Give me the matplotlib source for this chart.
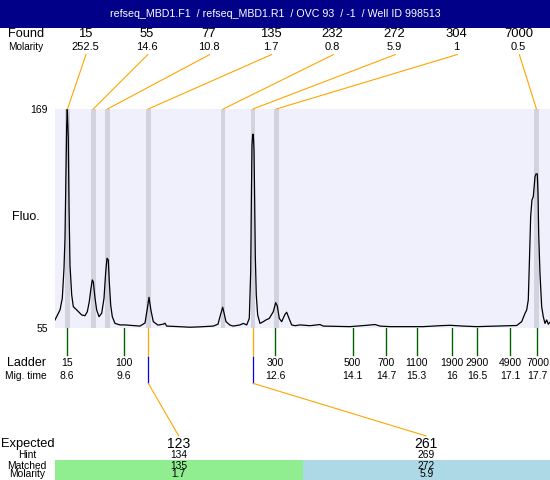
import matplotlib
matplotlib.use('Agg')
import matplotlib.pyplot as plt
from matplotlib.patches import ConnectionPatch, Rectangle
from matplotlib.transforms import blended_transform_factory

plt.rcParams['font.family'] = ['Liberation Sans', 'DejaVu Sans']

# ---------------- data ----------------
title = "refseq_MBD1.F1  / refseq_MBD1.R1  / OVC 93  / -1  / Well ID 998513"

found_size = ['15', '55', '77', '135', '232', '272', '304', '7000']
found_molarity = ['252.5', '14.6', '10.8', '1.7', '0.8', '5.9', '1', '0.5']
found_time = [8.610, 9.109, 9.383, 10.172, 11.622, 12.197, 12.648, 17.680]

ladder_size = ['15', '100', '300', '500', '700', '1100', '1900', '2900', '4900', '7000']
ladder_mig = ['8.6', '9.6', '12.6', '14.1', '14.7', '15.3', '16', '16.5', '17.1', '17.7']
ladder_time = [8.600, 9.693, 12.623, 14.124, 14.770, 15.360, 16.039, 16.530, 17.178, 17.700]

expected = ['123', '261']
hint = ['134', '269']
matched = ['135', '272']
matched_molarity = ['1.7', '5.9']
matched_time = [10.172, 12.197]
match_colors = ['#90ee90', '#add8e6']

trace_time = [8.368, 8.465, 8.509, 8.542, 8.561, 8.594, 8.606, 8.625, 8.639, 8.658,
              8.691, 8.722, 8.788, 8.884, 8.948, 8.993, 9.031, 9.064, 9.089, 9.109,
              9.142, 9.174, 9.219, 9.271, 9.316, 9.349, 9.374, 9.399, 9.418, 9.445,
              9.476, 9.528, 9.625, 9.722, 10.012, 10.109, 10.153, 10.186, 10.225, 10.269,
              10.360, 10.463, 10.495, 10.528, 10.689, 10.979, 11.172, 11.430, 11.521, 11.559,
              11.611, 11.636, 11.675, 11.753, 11.816, 11.946, 12.010, 12.076, 12.126, 12.153,
              12.165, 12.178, 12.192, 12.204, 12.217, 12.231, 12.242, 12.261, 12.288, 12.333,
              12.397, 12.449, 12.513, 12.590, 12.636, 12.667, 12.706, 12.752, 12.816, 12.849,
              12.894, 12.946, 13.010, 13.107, 13.300, 13.493, 13.557, 14.074, 14.397, 14.557,
              14.654, 14.847, 15.170, 15.485, 15.814, 16.008, 16.259, 16.524, 16.781, 17.033,
              17.298, 17.394, 17.458, 17.491, 17.522, 17.541, 17.568, 17.593, 17.619, 17.652,
              17.671, 17.696, 17.710, 17.723, 17.748, 17.781, 17.812, 17.845, 17.878, 17.909,
              17.942]
trace_fluo = [59.2, 64.4, 70.5, 86.1, 101.7, 160.7, 169.0, 153.8, 119.0, 87.8,
              72.2, 66.1, 64.4, 61.8, 61.4, 63.5, 68.7, 75.7, 80.0, 79.0,
              70.5, 64.4, 60.9, 62.7, 70.5, 84.3, 91.3, 90.4, 79.1, 67.0,
              60.9, 57.4, 56.6, 56.6, 56.0, 57.6, 65.0, 71.0, 64.0, 58.3,
              56.5, 57.0, 57.5, 56.0, 55.8, 55.4, 55.6, 56.0, 57.0, 60.9,
              65.8, 63.0, 58.3, 56.5, 56.0, 56.6, 57.4, 56.6, 60.0, 84.3,
              119.0, 150.3, 155.8, 155.8, 147.7, 119.0, 92.6, 72.2, 61.8, 57.4,
              58.3, 59.2, 60.0, 63.5, 68.2, 66.5, 60.0, 58.3, 62.1, 63.2,
              60.0, 56.6, 56.2, 56.6, 56.2, 56.8, 56.0, 55.7, 56.4, 56.8,
              56.0, 55.7, 55.7, 55.7, 56.2, 56.4, 56.0, 55.7, 55.9, 56.1,
              56.3, 58.3, 62.6, 64.4, 69.6, 87.0, 113.0, 121.6, 123.4, 133.8,
              135.2, 135.2, 125.1, 104.3, 83.5, 66.1, 60.9, 57.4, 59.2, 57.0,
              58.0]

y_min, y_max = 55, 169
t_min, t_max = 8.368, 17.942
band_half = 0.0435

# ---------------- layout ----------------
W, H = 550, 480
fig = plt.figure(figsize=(W / 100, H / 100), dpi=100)
lay = fig.add_axes([0, 0, 1, 1])
lay.set_xlim(0, W)
lay.set_ylim(H, 0)
lay.axis('off')
lay.set_autoscale_on(False)

px_left, px_right, px_top, px_bottom = 55, 550, 109, 328
ax = fig.add_axes([px_left / W, (H - px_bottom) / H,
                   (px_right - px_left) / W, (px_bottom - px_top) / H])
ax.set_facecolor('#f0f0fc')
for s in ax.spines.values():
    s.set_visible(False)
ax.set_xlim(t_min, t_max)
ax.set_ylim(y_min, y_max)
ax.set_xticks([])
ax.set_yticks([y_min, y_max])
ax.set_yticklabels([str(y_min), str(y_max)], fontsize=7.5)
ax.tick_params(axis='y', length=0, pad=5)

for t in found_time:
    ax.axvspan(t - band_half, t + band_half, color='#d3d3df', lw=0, zorder=1)
ax.plot(trace_time, trace_fluo, color='black', lw=0.9, zorder=3)

bl = blended_transform_factory(ax.transData, lay.transData)
bl_top = blended_transform_factory(ax.transData, ax.transAxes)

# title bar
lay.add_patch(Rectangle((0, 0), W, 27.5, color='#000088', lw=0))
lay.text(W / 2, 14, title, color='white', ha='center', va='center', fontsize=7.7)

# Found row
lay.text(26, 34, 'Found', ha='center', va='center', fontsize=9.2)
lay.text(26, 47, 'Molarity', ha='center', va='center', fontsize=7.2)
for i, (sz, mol, t) in enumerate(zip(found_size, found_molarity, found_time)):
    lx = 85 + 61.9 * i
    lay.text(lx, 34, sz, ha='center', va='center', fontsize=9.4)
    lay.text(lx, 47, mol, ha='center', va='center', fontsize=8)
    con = ConnectionPatch(xyA=(lx + 1, 54.5), coordsA=lay.transData,
                          xyB=(t, 1), coordsB=bl_top, color='orange', lw=0.8)
    fig.add_artist(con)

lay.text(26, 217, 'Fluo.', ha='center', va='center', fontsize=9)

# Ladder
lay.text(27, 363, 'Ladder', ha='center', va='center', fontsize=9)
lay.text(26, 376, 'Mig. time', ha='center', va='center', fontsize=7.4)
for sz, mig, t in zip(ladder_size, ladder_mig, ladder_time):
    lay.plot([t, t], [px_bottom, 355], transform=bl, color='#006400', lw=1)
    lay.text(t, 363, sz, transform=bl, ha='center', va='center', fontsize=7.5)
    lay.text(t, 376, mig, transform=bl, ha='center', va='center', fontsize=7.5)

# Expected / matched
half = (px_right - px_left) / len(expected)
lay.text(1, 444, 'Expected', ha='left', va='center', fontsize=9.3)
lay.text(27, 455, 'Hint', ha='center', va='center', fontsize=7.4)
lay.text(27, 465.7, 'Matched', ha='center', va='center', fontsize=7.4)
lay.text(27, 474.3, 'Molarity', ha='center', va='center', fontsize=7.4)
for i, (e, h, m, mm, t, c) in enumerate(zip(expected, hint, matched, matched_molarity,
                                            matched_time, match_colors)):
    x0 = px_left + i * half
    cx = x0 + half / 2
    lay.add_patch(Rectangle((x0, 460), half, 20, color=c, lw=0))
    lay.text(cx, 444, e, ha='center', va='center', fontsize=10)
    lay.text(cx, 455, h, ha='center', va='center', fontsize=7.4)
    lay.text(cx, 465.7, m, ha='center', va='center', fontsize=7.4)
    lay.text(cx, 474.3, mm, ha='center', va='center', fontsize=7.4)
    lay.plot([t, t], [px_bottom, 356.7], transform=bl, color='orange', lw=0.9)
    lay.plot([t, t], [356.7, 383.3], transform=bl, color='blue', lw=0.9)
    con = ConnectionPatch(xyA=(t, 383.3), coordsA=bl, xyB=(cx, 436),
                          coordsB=lay.transData, color='orange', lw=0.8)
    fig.add_artist(con)

fig.savefig('out.png', dpi=100)
